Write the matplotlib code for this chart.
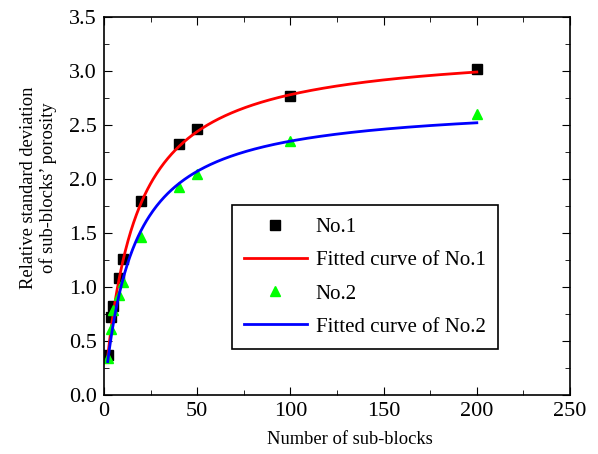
import numpy as np
import matplotlib
matplotlib.use('Agg')
import matplotlib.pyplot as plt

plt.rcParams['font.family'] = ['Liberation Serif', 'DejaVu Serif']
plt.rcParams['mathtext.fontset'] = 'stix'

# Measured data
n_blocks = [2, 4, 5, 8, 10, 20, 40, 50, 100, 200]
rsd_no1 = [0.37, 0.72, 0.82, 1.08, 1.26, 1.80, 2.32, 2.46, 2.77, 3.02]
rsd_no2 = [0.34, 0.61, 0.79, 0.93, 1.05, 1.46, 1.93, 2.05, 2.35, 2.60]

# Fitted curve parameters, y = a*x/(b+x)
fit_no1 = (3.234, 16.3)
fit_no2 = (2.717, 15.6)

x_fit = np.linspace(2, 200, 400)

fig = plt.figure(figsize=(5.98, 4.54), dpi=100)
ax = fig.add_axes([0.1739, 0.130, 0.7793, 0.8326])

ax.plot(n_blocks, rsd_no1, 's', color='black', markersize=6.5, label='No.1')
ax.plot(x_fit, fit_no1[0] * x_fit / (fit_no1[1] + x_fit), color='red', lw=2, label='Fitted curve of No.1')
ax.plot(n_blocks, rsd_no2, '^', color='#00ff00', markersize=7.5, label='No.2')
ax.plot(x_fit, fit_no2[0] * x_fit / (fit_no2[1] + x_fit), color='blue', lw=2, label='Fitted curve of No.2')

ax.set_xlim(0, 250)
ax.set_ylim(0, 3.5)
ax.set_xticks(np.arange(0, 251, 50))
ax.set_xticks(np.arange(0, 251, 25), minor=True)
ax.set_yticks(np.arange(0, 3.51, 0.5))
ax.set_yticks(np.arange(0, 3.51, 0.25), minor=True)
ax.yaxis.set_major_formatter(matplotlib.ticker.FormatStrFormatter('%.1f'))
ax.tick_params(which='both', direction='in', top=True, right=True, labelsize=16)
ax.tick_params(which='major', length=6, pad=5)
ax.tick_params(which='minor', length=3.5)
for s in ax.spines.values():
    s.set_linewidth(1.2)

ax.set_xlabel('Number of sub-blocks', fontsize=13.3)
ax.set_ylabel('Relative standard deviation\nof sub-blocks\u2019 porosity', fontsize=13.3)
ax.xaxis.set_label_coords(0.528, -0.095)
ax.yaxis.set_label_coords(-0.10, 0.549)

leg = ax.legend(loc='lower left', bbox_to_anchor=(0.274, 0.121), fontsize=15,
                fancybox=False, edgecolor='black', framealpha=1, borderaxespad=0,
                handlelength=3.0, labelspacing=0.65, borderpad=0.6, handletextpad=0.43)
leg.get_frame().set_linewidth(1.2)

fig.savefig('out.png', dpi=100)
